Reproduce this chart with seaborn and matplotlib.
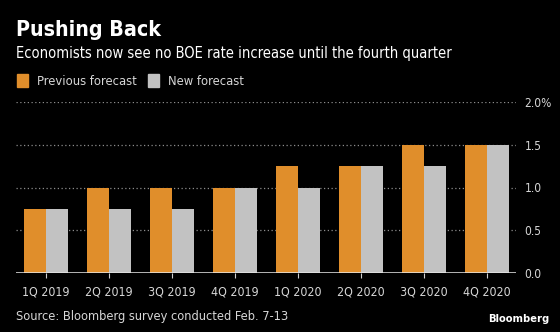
import matplotlib
matplotlib.use("Agg")
import matplotlib.pyplot as plt
from matplotlib.patches import Rectangle
import seaborn as sns
import pandas as pd

quarters = ["1Q 2019", "2Q 2019", "3Q 2019", "4Q 2019",
            "1Q 2020", "2Q 2020", "3Q 2020", "4Q 2020"]
previous_forecast = [0.75, 1.0, 1.0, 1.0, 1.25, 1.25, 1.5, 1.5]
new_forecast = [0.75, 0.75, 0.75, 1.0, 1.0, 1.25, 1.25, 1.5]
series_names = ["Previous forecast", "New forecast"]
y_ticks = [0.0, 0.5, 1.0, 1.5, 2.0]
y_tick_labels = ["0.0", "0.5", "1.0", "1.5", "2.0%"]

ORANGE = "#E08E2B"
GRAY = "#C2C2C2"
TEXT = "#D6D6D6"
BG = "#000000"
W, H = 560, 332


def fx(px):
    return px / W


def fy(py):
    return 1 - py / H


df = pd.DataFrame({
    "quarter": quarters * 2,
    "value": previous_forecast + new_forecast,
    "series": [series_names[0]] * len(quarters) + [series_names[1]] * len(quarters),
})

sns.set_theme(style="dark")
plt.rcParams["font.family"] = ["DejaVu Sans"]
plt.rcParams["font.stretch"] = "condensed"

fig = plt.figure(figsize=(W / 100, H / 100), dpi=100, facecolor=BG)
ax = fig.add_axes([fx(16), fy(273), (516 - 16) / W, (273 - 102) / H])
ax.set_facecolor(BG)

sns.barplot(data=df, x="quarter", y="value", hue="series",
            palette=[ORANGE, GRAY], width=0.69, saturation=1,
            edgecolor="none", legend=False, ax=ax, zorder=3)

XMIN, XMAX = -0.476, 7.46
ax.set_xlim(XMIN, XMAX)
ax.set_ylim(0, 2.0)
ax.set_yticks(y_ticks)
ax.set_yticklabels(y_tick_labels)
ax.yaxis.tick_right()
ax.set_xlabel("")
ax.set_ylabel("")

for s in ax.spines.values():
    s.set_visible(False)
ax.grid(False)
ax.axhline(0, color="#E6E6E6", lw=1.1, zorder=4)
for y in y_ticks[1:]:
    ax.plot([XMIN, XMAX], [y, y], color="#8C8C8C", lw=0.9,
            ls=(0, (1, 2)), zorder=1)

ax.tick_params(axis="x", colors="#CFCFCF", labelsize=8.9, length=3.5, width=0.8,
               direction="out", pad=5.5, bottom=True)
ax.tick_params(axis="y", colors=TEXT, labelsize=8.6, length=0, pad=6)
for lbl in ax.get_xticklabels() + ax.get_yticklabels():
    lbl.set_color(TEXT)

fig.text(fx(16), fy(36), "Pushing Back", color="white",
         fontsize=15.3, fontweight="bold", va="baseline", ha="left")
fig.text(fx(16), fy(58),
         "Economists now see no BOE rate increase until the fourth quarter",
         color="white", fontsize=10.5, va="baseline", ha="left")

# legend swatches and labels
for x0, tx, label, col in [(17, 37, series_names[0], ORANGE),
                           (148, 168, series_names[1], GRAY)]:
    fig.patches.append(Rectangle((fx(x0), fy(87)), 11 / W, 13 / H,
                                 transform=fig.transFigure, color=col, figure=fig))
    fig.text(fx(tx), fy(85), label, color=TEXT,
             fontsize=9.3, va="baseline", ha="left")

fig.text(fx(16), fy(320), "Source: Bloomberg survey conducted Feb. 7-13",
         color=TEXT, fontsize=9.2, va="baseline", ha="left")
fig.text(fx(549), fy(322), "Bloomberg", color="white",
         fontsize=7.2, fontweight="bold", fontstretch="normal",
         va="baseline", ha="right")

fig.savefig("out.png", dpi=100, facecolor=BG)
